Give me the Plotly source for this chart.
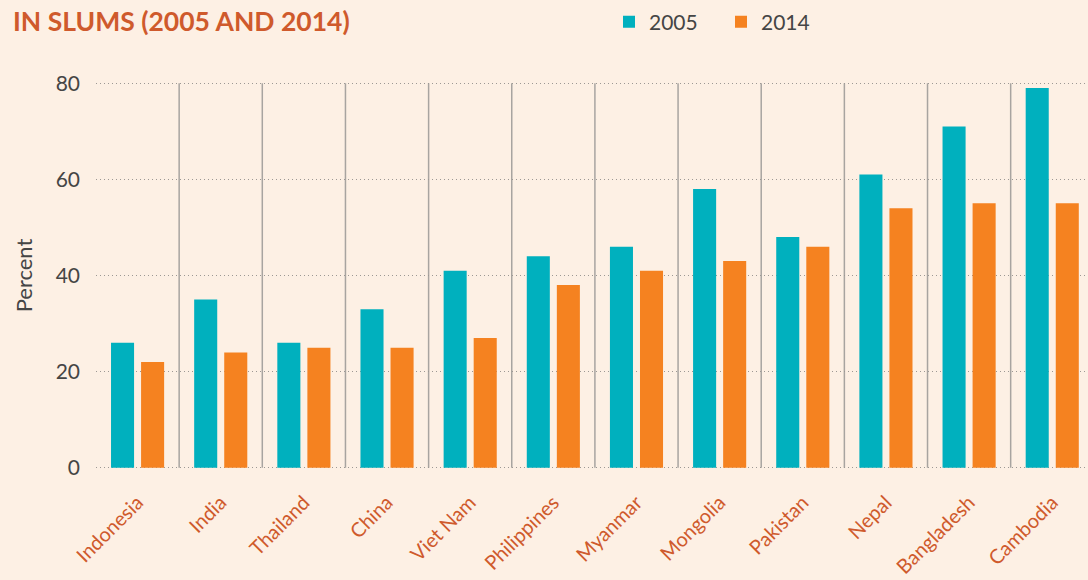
import plotly.graph_objects as go

# Share of urban population living in slums, by country
countries = ["Indonesia", "India", "Thailand", "China", "Viet Nam", "Philippines",
             "Myanmar", "Mongolia", "Pakistan", "Nepal", "Bangladesh", "Cambodia"]
pct_2005 = [26, 35, 26, 33, 41, 44, 46, 58, 48, 61, 71, 79]
pct_2014 = [22, 24, 25, 25, 27, 38, 41, 43, 46, 54, 55, 55]
y_ticks = [0, 20, 40, 60, 80]

TEAL = "#00B0BE"
ORANGE = "#F58220"
BG = "#FDF0E4"
RUST = "#CF5A2C"
INK = "#454545"

fig = go.Figure()
fig.add_trace(go.Bar(x=countries, y=pct_2005, name="2005", marker_color=TEAL,
                     marker_line_width=0))
fig.add_trace(go.Bar(x=countries, y=pct_2014, name="2014", marker_color=ORANGE,
                     marker_line_width=0))

# Thin separators between country groups
for i in range(len(countries) - 1):
    fig.add_shape(type="line", xref="x", yref="y",
                  x0=i + 0.5, x1=i + 0.5, y0=0, y1=y_ticks[-1],
                  line=dict(color="#A8A4A0", width=1.5), layer="below")

fig.update_layout(
    width=1088, height=580,
    paper_bgcolor=BG, plot_bgcolor=BG,
    margin=dict(l=96, r=0, t=81, b=110),
    barmode="group", bargap=0.277, bargroupgap=0.233,
    font=dict(family="Lato", color=INK),
    title=dict(text="<b>IN SLUMS (2005 AND 2014)</b>", xref="container", yref="container",
               x=13 / 1088, xanchor="left", y=1 - 22 / 580, yanchor="middle",
               font=dict(family="Lato", size=26.5, color=RUST)),
    legend=dict(orientation="h", xref="container", yref="container",
                x=609 / 1088, xanchor="left", y=1 - 22 / 580, yanchor="middle",
                font=dict(size=21, color=INK), bgcolor="rgba(0,0,0,0)",
                itemwidth=30, entrywidth=67, tracegroupgap=0),
    xaxis=dict(range=[-0.5, 11.43], showgrid=False, zeroline=False, showline=False,
               tickangle=-45, tickfont=dict(size=20, color=RUST, family="Lato"),
               ticks="", ticklabelstandoff=16, fixedrange=True),
    yaxis=dict(range=[-0.45, 80.45], tickvals=y_ticks, showgrid=True, griddash="1px,3px",
               gridcolor="#9C9894", gridwidth=1.2, zeroline=False, showline=False,
               tickfont=dict(size=21, color=INK), ticklabelstandoff=15,
               title=dict(text="Percent", font=dict(size=22, color=INK), standoff=16),
               fixedrange=True),
)

fig.write_html("out.html")
